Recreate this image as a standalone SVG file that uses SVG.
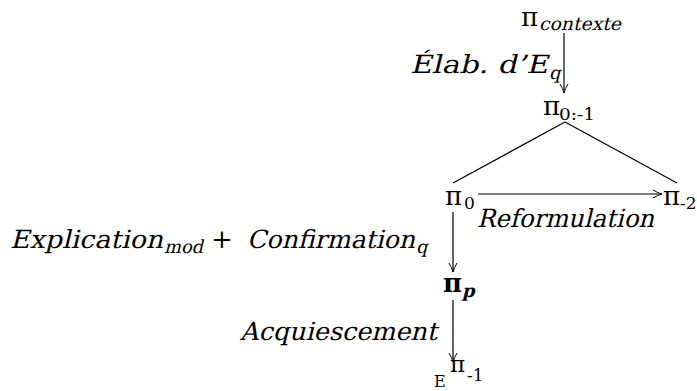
<svg xmlns="http://www.w3.org/2000/svg" width="697" height="391" viewBox="0 0 697 391">
<style>
text{font-family:"DejaVu Serif",serif;fill:#000}
.it{font-size:25px}
.sub{font-size:18px}
.pi{font-size:26px}
.num{font-size:17px}
.ln{stroke:#000;stroke-width:1.2;fill:none}
</style>
<defs>
<marker id="arr" viewBox="0 0 10 10" refX="10" refY="5" markerWidth="10" markerHeight="10" markerUnits="userSpaceOnUse" orient="auto">
<path d="M1,1 Q6,4 10,5 Q6,6 1,9" fill="none" stroke="#000" stroke-width="1"/>
</marker>
</defs>
<g id="connectors">
<line class="ln" x1="564" y1="33" x2="564" y2="93" marker-end="url(#arr)"/>
<line class="ln" x1="565" y1="122" x2="453" y2="183"/>
<line class="ln" x1="565" y1="122" x2="677" y2="183"/>
<line class="ln" x1="478" y1="194" x2="662" y2="194" marker-end="url(#arr)"/>
<line class="ln" x1="453" y1="212" x2="453" y2="272" marker-end="url(#arr)"/>
<line class="ln" x1="453" y1="300" x2="453" y2="362" marker-end="url(#arr)"/>
</g>
<g id="labels">
<text class="it" transform="translate(410,73) skewX(-14)" textLength="138" lengthAdjust="spacingAndGlyphs">Élab. d’E</text>
<text class="sub" transform="translate(549,79) skewX(-14)">q</text>
<text class="it" transform="translate(477,227) skewX(-14)" textLength="177" lengthAdjust="spacingAndGlyphs">Reformulation</text>
<text class="it" transform="translate(10,248) skewX(-14)" textLength="153" lengthAdjust="spacingAndGlyphs">Explication</text>
<text class="sub" transform="translate(164,253) skewX(-14)" textLength="39" lengthAdjust="spacingAndGlyphs">mod</text>
<text x="211" y="248" style="font-size:26px">+</text>
<text class="it" transform="translate(247,248) skewX(-14)" textLength="168" lengthAdjust="spacingAndGlyphs">Confirmation</text>
<text class="sub" transform="translate(416,253) skewX(-14)">q</text>
<text class="it" transform="translate(240,340) skewX(-14)" textLength="197" lengthAdjust="spacingAndGlyphs">Acquiescement</text>
</g>
<g id="n-contexte">
<text class="pi" x="521" y="26">π</text>
<text class="sub" transform="translate(539,30) skewX(-14)" textLength="82" lengthAdjust="spacingAndGlyphs">contexte</text>
</g>
<g id="n-0-1">
<text class="pi" x="543" y="115">π</text>
<text class="num" x="559" y="120" textLength="36" lengthAdjust="spacingAndGlyphs">0:-1</text>
</g>
<g id="n-0">
<text class="pi" x="445" y="205">π</text>
<text class="num" x="464" y="209">0</text>
</g>
<g id="n-m2">
<text class="pi" x="663" y="205">π</text>
<text class="num" x="680" y="209">-2</text>
</g>
<g id="n-p">
<text class="pi" x="443" y="292" style="font-weight:bold">π</text>
<text class="sub" transform="translate(462,297) skewX(-14)" style="font-weight:bold">p</text>
</g>
<g id="n-e">
<text x="434" y="387" style="font-size:16px">E</text>
<text class="pi" x="450" y="372" style="font-size:23px">π</text>
<text class="num" x="467" y="381" style="font-size:17px">-1</text>
</g>
</svg>
